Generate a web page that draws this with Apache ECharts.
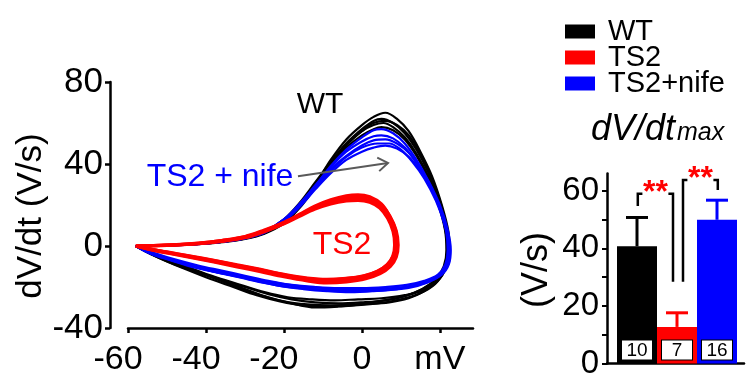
<!DOCTYPE html>
<html><head><meta charset="utf-8">
<script src="https://cdn.jsdelivr.net/npm/echarts@6/dist/echarts.min.js"></script>
<style>html,body{margin:0;padding:0;background:#fff}#c{width:746px;height:380px}</style>
</head><body><div id="c"></div>
<script>
// ---------- DATA ----------
// Phase-plane loops: [membrane potential (mV), dV/dt (V/s)]
const wtLoops = [
  [[-58,0],[-50,0.3],[-42,1],[-35,2.2],[-30,3.8],[-25,6.5],[-20,12],[-16,20],[-12,30],[-8,42],[-4,52],[0,59],[3,63],[6,65],[9,62],[12,56],[15,46],[18,34],[20.5,20],[22.2,7],[22.5,-3],[21.5,-11],[19.5,-17],[16,-22],[12,-25.5],[7,-27.5],[0,-28.5],[-6,-29.5],[-12,-30],[-18,-28],[-24,-25],[-30,-21],[-36,-17],[-42,-13],[-48,-9],[-53,-5],[-58,0]],
  [[-58,0],[-50,0.4],[-42,1.2],[-35,2.5],[-30,4],[-25,7],[-20,13],[-16,21],[-12,31],[-8,41],[-4,50],[0,56],[3,59],[5.5,60],[8,58],[11,53],[14,45],[17,34],[19.5,21],[21.3,8],[21.7,-2],[21,-10],[19,-16],[15.5,-21],[11,-24.5],[6,-26.5],[0,-27.5],[-6,-28],[-12,-27.5],[-18,-26],[-24,-23.5],[-30,-20],[-36,-16.5],[-42,-12.5],[-48,-8.5],[-53,-4.5],[-58,0]],
  [[-58,0],[-50,0.3],[-42,1],[-35,2.3],[-30,3.6],[-25,6.2],[-20,11.5],[-16,19],[-12,29],[-8,40],[-4,50],[0,57],[3,61],[5,62],[8,60],[11,55],[14,47],[17,36],[19.8,22],[21.8,8],[22.2,-2],[21.4,-10],[19.3,-17],[16,-21.5],[11,-24],[5,-25.5],[-1,-26],[-7,-26.5],[-13,-26],[-19,-25],[-25,-22.5],[-31,-19],[-37,-15.5],[-43,-11.5],[-49,-7.5],[-54,-4],[-58,0]],
  [[-58,0],[-50,0.3],[-42,1.1],[-35,2.4],[-30,4],[-25,6.8],[-20,12.5],[-16,20],[-12,30],[-8,40],[-4,48],[0,54],[3,57],[5,58],[8,56.5],[11,52],[14,44],[17,33],[19.8,20],[21.5,7],[21.8,-3],[21,-11],[18.5,-17.5],[14.5,-22],[10,-25],[4,-27],[-2,-28.5],[-8,-29],[-14,-28.5],[-20,-27],[-26,-24],[-32,-20],[-38,-15.5],[-44,-11],[-50,-6.5],[-54,-3.5],[-58,0]],
  [[-58,0],[-50,0.2],[-42,0.9],[-35,2],[-30,3.4],[-25,6],[-20,11],[-16,18.5],[-12,28.5],[-8,39],[-4,49],[0,56],[3,60],[6,61],[9,59],[12,54],[15,45],[18,33],[20.5,19],[22,6],[22.3,-4],[21.2,-12],[18.8,-18.5],[15,-23],[10,-26],[4,-28],[-2,-29],[-9,-29.5],[-15,-29],[-21,-27],[-27,-24],[-33,-20],[-39,-16],[-45,-11.5],[-50,-7.5],[-54,-4],[-58,0]]
];
const nifeLoops = [
  [[-58,0],[-50,0.3],[-42,1],[-35,2.3],[-30,3.8],[-25,6.8],[-20,12.5],[-16,20],[-12,29],[-8,39],[-4,47],[0,53],[3,56.5],[5,57],[8,55],[11,50],[14,42],[17,32],[20,20],[22,8],[22.8,-2],[22.3,-9],[20.5,-14],[17,-17.5],[13,-19.5],[8,-20.5],[2,-21],[-4,-21],[-10,-20.5],[-16,-19.5],[-22,-18],[-28,-16],[-34,-14],[-40,-11.5],[-46,-8.5],[-52,-5],[-58,0]],
  [[-58,0],[-50,0.3],[-42,1.1],[-35,2.5],[-30,4],[-25,7],[-20,13],[-16,20.5],[-12,29],[-8,37.5],[-4,44],[0,49],[3,51.5],[6,52],[9,50],[12,45.5],[15,38],[18,28],[20.5,16],[22,5],[22.3,-4],[21.4,-10.5],[19,-15],[15.5,-18],[11,-20],[5,-21],[-1,-21.5],[-7,-21.5],[-13,-21],[-19,-20],[-25,-18],[-31,-15.5],[-37,-13],[-43,-10.5],[-49,-7],[-54,-4],[-58,0]],
  [[-58,0],[-50,0.2],[-42,0.9],[-35,2.2],[-30,3.7],[-25,6.5],[-20,12],[-16,19],[-12,27.5],[-8,35.5],[-4,42],[0,46],[3,48],[6,49],[9,47.5],[12,43.5],[15,36.5],[18,27],[20.5,16],[22.2,5],[22.6,-3],[22,-9.5],[20,-14.5],[16.5,-18],[12,-20.5],[6,-21.5],[0,-22],[-6,-22],[-12,-21],[-18,-19.5],[-24,-17.5],[-30,-15],[-36,-12.5],[-42,-10],[-48,-7],[-53,-4],[-58,0]],
  [[-58,0],[-50,0.3],[-42,1],[-35,2.4],[-30,3.9],[-25,7],[-20,13],[-16,20.5],[-12,29.5],[-8,38.5],[-4,46],[0,51],[3,53.5],[5,54],[8,52.5],[11,48],[14,40.5],[17,31],[19.8,19],[21.6,7],[22,-2],[21.4,-9],[19.5,-14],[16,-17],[11.5,-19],[6,-20],[0,-20.5],[-6,-20.5],[-12,-20],[-18,-19],[-24,-17],[-30,-14.5],[-36,-12],[-42,-9.5],[-48,-6.5],[-53,-3.5],[-58,0]],
  [[-58,0],[-50,0.3],[-42,1],[-35,2.3],[-30,3.8],[-25,6.6],[-20,12.2],[-16,19.5],[-12,28],[-8,36.5],[-4,43.5],[0,48],[4,50],[7,50],[10,47],[13,41],[16,33],[19,22],[21.3,10],[22.5,0],[22.4,-7],[21,-12.5],[18,-16.5],[14,-19],[9,-21],[3,-22],[-3,-22.5],[-9,-22],[-15,-21],[-21,-19.5],[-27,-17],[-33,-14.5],[-39,-12],[-45,-9],[-51,-5.5],[-55,-3],[-58,0]]
];
const ts2Loops = [
  [[-58,0],[-50,0.4],[-42,1.2],[-36,2.4],[-30,4.3],[-25,7.5],[-20,11.5],[-16,15.5],[-12,19.5],[-8,22.5],[-4,24.5],[-1,25],[2,24],[5,20.5],[7,15],[8.6,8],[9,1],[8.5,-5],[7,-9.5],[4.5,-13],[1,-15.5],[-4,-17],[-9,-17.5],[-14,-16.5],[-20,-14.5],[-26,-12],[-32,-9.8],[-38,-7.5],[-44,-5.3],[-50,-3.2],[-54,-1.8],[-58,0]],
  [[-58,0],[-50,0.5],[-42,1.4],[-36,2.7],[-30,4.6],[-25,7.8],[-20,11.5],[-16,15],[-12,18.5],[-8,21],[-4,22.8],[-1,23.2],[2,22.2],[4.8,19],[6.8,14],[8.2,7.5],[8.6,1],[8.1,-4.5],[6.6,-9],[4,-12.3],[0.5,-14.5],[-4,-15.8],[-9,-16.3],[-14,-15.6],[-20,-13.8],[-26,-11.4],[-32,-9.2],[-38,-7],[-44,-4.9],[-50,-2.9],[-54,-1.6],[-58,0]],
  [[-58,0],[-50,0.3],[-42,1.1],[-36,2.2],[-30,4],[-25,7],[-20,11],[-16,15.2],[-12,19],[-8,22],[-4,23.8],[-1,24.3],[2,23.5],[5,20],[7.2,14.5],[8.8,7.5],[9.3,0.5],[8.8,-5.5],[7.3,-10],[4.7,-13.5],[1,-16],[-4,-17.5],[-9,-18],[-14,-17],[-20,-15],[-26,-12.5],[-32,-10.2],[-38,-7.8],[-44,-5.6],[-50,-3.4],[-54,-1.9],[-58,0]],
  [[-58,0],[-50,0.4],[-42,1.3],[-36,2.6],[-30,4.5],[-25,7.3],[-20,10.8],[-16,14.5],[-12,18],[-8,20.5],[-4,22],[-1,22.3],[2,21.4],[4.6,18.5],[6.6,13.5],[8,7],[8.4,0.5],[7.9,-5],[6.4,-9.2],[3.8,-12.5],[0.2,-14.8],[-4.5,-16],[-9.5,-16.5],[-15,-15.7],[-21,-13.7],[-27,-11.3],[-33,-9],[-39,-6.8],[-45,-4.7],[-51,-2.7],[-55,-1.3],[-58,0]]
];
const xTicks = [-60, -40, -20, 0, 20];
const yTicks = [-40, 0, 40, 80];
const groups = ['WT', 'TS2', 'TS2+nife'];
const meanDvdt = [40.7, 12.7, 49.9];
const semDvdt = [10.0, 4.9, 6.8];
const nCells = [10, 7, 16];
const barYLabels = [0, 20, 40, 60];
const barYTicks = [0, 10, 20, 30, 40, 50, 60];
// significance brackets: [x left, x right, y left end, y right end, y top]
const sigBrackets = [[0.02, 0.9, 54.7, 28.4, 58.9], [1.15, 2.02, 28.4, 60.2, 63.7]];
const arrowLine = [[-16.4, 34, 6.7, 40.5]];

// ---------- STYLE ----------
const F = 'Liberation Sans';
const COL = { 'WT': '#000000', 'TS2': '#ff0000', 'TS2+nife': '#0000ff' };
const groupColors = groups.map(g => COL[g]);

const series = [];
function addLoops(loops, name, width, z) {
  loops.forEach(loop => series.push({
    type: 'line', name, xAxisIndex: 0, yAxisIndex: 0, data: loop,
    showSymbol: false, symbol: 'none', smooth: 0.35, silent: true, z,
    lineStyle: { color: COL[name], width }, itemStyle: { color: COL[name] }
  }));
}
addLoops(wtLoops, 'WT', 2.2, 2);
addLoops(nifeLoops, 'TS2+nife', 2.2, 3);
addLoops(ts2Loops, 'TS2', 3.2, 4);

series.push({
  type: 'custom', xAxisIndex: 0, yAxisIndex: 0, silent: true, z: 6,
  data: arrowLine, encode: { x: [0, 2], y: [1, 3] },
  renderItem(params, api) {
    const a = api.coord([api.value(0), api.value(1)]);
    const b = api.coord([api.value(2), api.value(3)]);
    const ang = Math.atan2(b[1] - a[1], b[0] - a[0]);
    const L = 12, s = 0.6;
    const p1 = [b[0] - L * Math.cos(ang - s), b[1] - L * Math.sin(ang - s)];
    const p2 = [b[0] - L * Math.cos(ang + s), b[1] - L * Math.sin(ang + s)];
    return { type: 'group', children: [
      { type: 'line', shape: { x1: a[0], y1: a[1], x2: b[0], y2: b[1] }, style: { stroke: '#5a5a5a', lineWidth: 2 } },
      { type: 'polyline', shape: { points: [p1, b, p2] }, style: { stroke: '#5a5a5a', lineWidth: 2, fill: null } }
    ]};
  }
});

series.push({
  type: 'bar', xAxisIndex: 1, yAxisIndex: 1, barWidth: 40, silent: true, z: 2,
  data: meanDvdt.map((m, i) => ({
    value: [i, m], itemStyle: { color: groupColors[i] },
    label: { show: true, formatter: String(nCells[i]) }
  })),
  label: {
    show: true, position: 'insideBottom', distance: 4, color: '#000',
    fontFamily: F, fontSize: 19, lineHeight: 18, backgroundColor: '#fff',
    borderColor: '#000', borderWidth: 1, padding: [1, 3, 0, 3], width: 24, align: 'center'
  }
});

series.push({
  type: 'custom', xAxisIndex: 1, yAxisIndex: 1, silent: true, z: 3,
  data: meanDvdt.map((m, i) => [i, m, m + semDvdt[i]]), encode: { x: 0, y: [1, 2] },
  renderItem(params, api) {
    const c = groupColors[params.dataIndex];
    const b = api.coord([api.value(0), api.value(1)]);
    const t = api.coord([api.value(0), api.value(2)]);
    return { type: 'group', children: [
      { type: 'line', shape: { x1: b[0], y1: b[1], x2: t[0], y2: t[1] }, style: { stroke: c, lineWidth: 3 } },
      { type: 'line', shape: { x1: t[0] - 11, y1: t[1], x2: t[0] + 11, y2: t[1] }, style: { stroke: c, lineWidth: 3 } }
    ]};
  }
});

series.push({
  type: 'custom', xAxisIndex: 1, yAxisIndex: 1, silent: true, z: 4,
  data: sigBrackets, encode: { x: [0, 1], y: [2, 3, 4] },
  renderItem(params, api) {
    const pL = api.coord([api.value(0), api.value(2)]);
    const pLT = api.coord([api.value(0), api.value(4)]);
    const pRT = api.coord([api.value(1), api.value(4)]);
    const pR = api.coord([api.value(1), api.value(3)]);
    const mid = (pLT[0] + pRT[0]) / 2;
    const st = { stroke: '#000', lineWidth: 2.5, fill: null };
    return { type: 'group', children: [
      { type: 'polyline', shape: { points: [pL, pLT, [mid - 13, pLT[1]]] }, style: st },
      { type: 'polyline', shape: { points: [[mid + 13, pRT[1]], pRT, pR] }, style: st },
      { type: 'text', style: { text: '**', x: mid, y: pLT[1] - 1, align: 'center', verticalAlign: 'middle',
        fill: '#ff0000', fontFamily: F, fontSize: 32, fontWeight: 'bold' } }
    ]};
  }
});

const axisLineStyle = { color: '#000', width: 2.5 };
const option = {
  animation: false,
  backgroundColor: '#fff',
  legend: {
    data: groups, orient: 'vertical', left: 565, top: 17, icon: 'rect',
    itemWidth: 30, itemHeight: 14, itemGap: -3, padding: 0, selectedMode: false,
    textStyle: { fontFamily: F, fontSize: 29, color: '#000', padding: [0, 0, 0, 8] }
  },
  grid: [
    { left: 128, top: 82, width: 345, height: 246 },
    { left: 607, top: 173.4, width: 137, height: 190.6 }
  ],
  xAxis: [
    { type: 'value', gridIndex: 0, min: -60, max: 28.5, interval: 20,
      axisLine: { onZero: false, lineStyle: axisLineStyle }, splitLine: { show: false },
      axisTick: { customValues: xTicks, length: 5, lineStyle: { width: 2.5, color: '#000' } },
      axisLabel: { customValues: xTicks, margin: 15, color: '#000', fontFamily: F, fontSize: 34,
        formatter: v => v === 20 ? 'mV' : (v < 0 ? '{n|' + v + '}' : String(v)),
        rich: { n: { fontFamily: F, fontSize: 34, color: '#000', padding: [0, 20, 0, 0] } } } },
    { type: 'value', gridIndex: 1, min: -0.75, max: 2.675,
      axisLine: { onZero: false, lineStyle: axisLineStyle }, splitLine: { show: false },
      axisTick: { show: false }, axisLabel: { show: false } }
  ],
  yAxis: [
    { type: 'value', gridIndex: 0, min: -40, max: 80, interval: 40, offset: 18,
      axisLine: { show: true, onZero: false, lineStyle: axisLineStyle }, splitLine: { show: false },
      axisTick: { show: true, customValues: yTicks, length: 5, lineStyle: { width: 2.5, color: '#000' } },
      axisLabel: { customValues: yTicks, margin: 7, color: '#000', fontFamily: F, fontSize: 35 } },
    { type: 'value', gridIndex: 1, min: 0, max: 66, interval: 10,
      axisLine: { show: true, onZero: false, lineStyle: axisLineStyle }, splitLine: { show: false },
      axisTick: { show: true, customValues: barYTicks, length: 5, lineStyle: { width: 2, color: '#000' } },
      axisLabel: { customValues: barYLabels, margin: 8, color: '#000', fontFamily: F, fontSize: 33 } }
  ],
  graphic: [
    { type: 'text', x: 320, y: 105, style: { text: 'WT', align: 'center', verticalAlign: 'middle', fill: '#000', fontFamily: F, fontSize: 30 }, z: 10 },
    { type: 'text', x: 220, y: 177, style: { text: 'TS2 + nife', align: 'center', verticalAlign: 'middle', fill: '#0000ff', fontFamily: F, fontSize: 32 }, z: 10 },
    { type: 'text', x: 342, y: 245, style: { text: 'TS2', align: 'center', verticalAlign: 'middle', fill: '#ff0000', fontFamily: F, fontSize: 32 }, z: 10 },
    { type: 'text', x: 31, y: 216, rotation: Math.PI / 2, style: { text: 'dV/dt (V/s)', align: 'center', verticalAlign: 'middle', fill: '#000', fontFamily: F, fontSize: 35 }, z: 10 },
    { type: 'text', x: 537, y: 270, rotation: Math.PI / 2, style: { text: '(V/s)', align: 'center', verticalAlign: 'middle', fill: '#000', fontFamily: F, fontSize: 36 }, z: 10 },
    { type: 'text', x: 591, y: 129.5, style: { text: 'dV/dt', align: 'left', verticalAlign: 'middle', fill: '#000', fontFamily: F, fontSize: 36, fontStyle: 'italic' }, z: 10 },
    { type: 'text', x: 677, y: 133, style: { text: 'max', align: 'left', verticalAlign: 'middle', fill: '#000', fontFamily: F, fontSize: 25, fontStyle: 'italic' }, z: 10 }
  ],
  series
};
const chart = echarts.init(document.getElementById('c'), null, { renderer: 'canvas' });
chart.setOption(option);
</script></body></html>
